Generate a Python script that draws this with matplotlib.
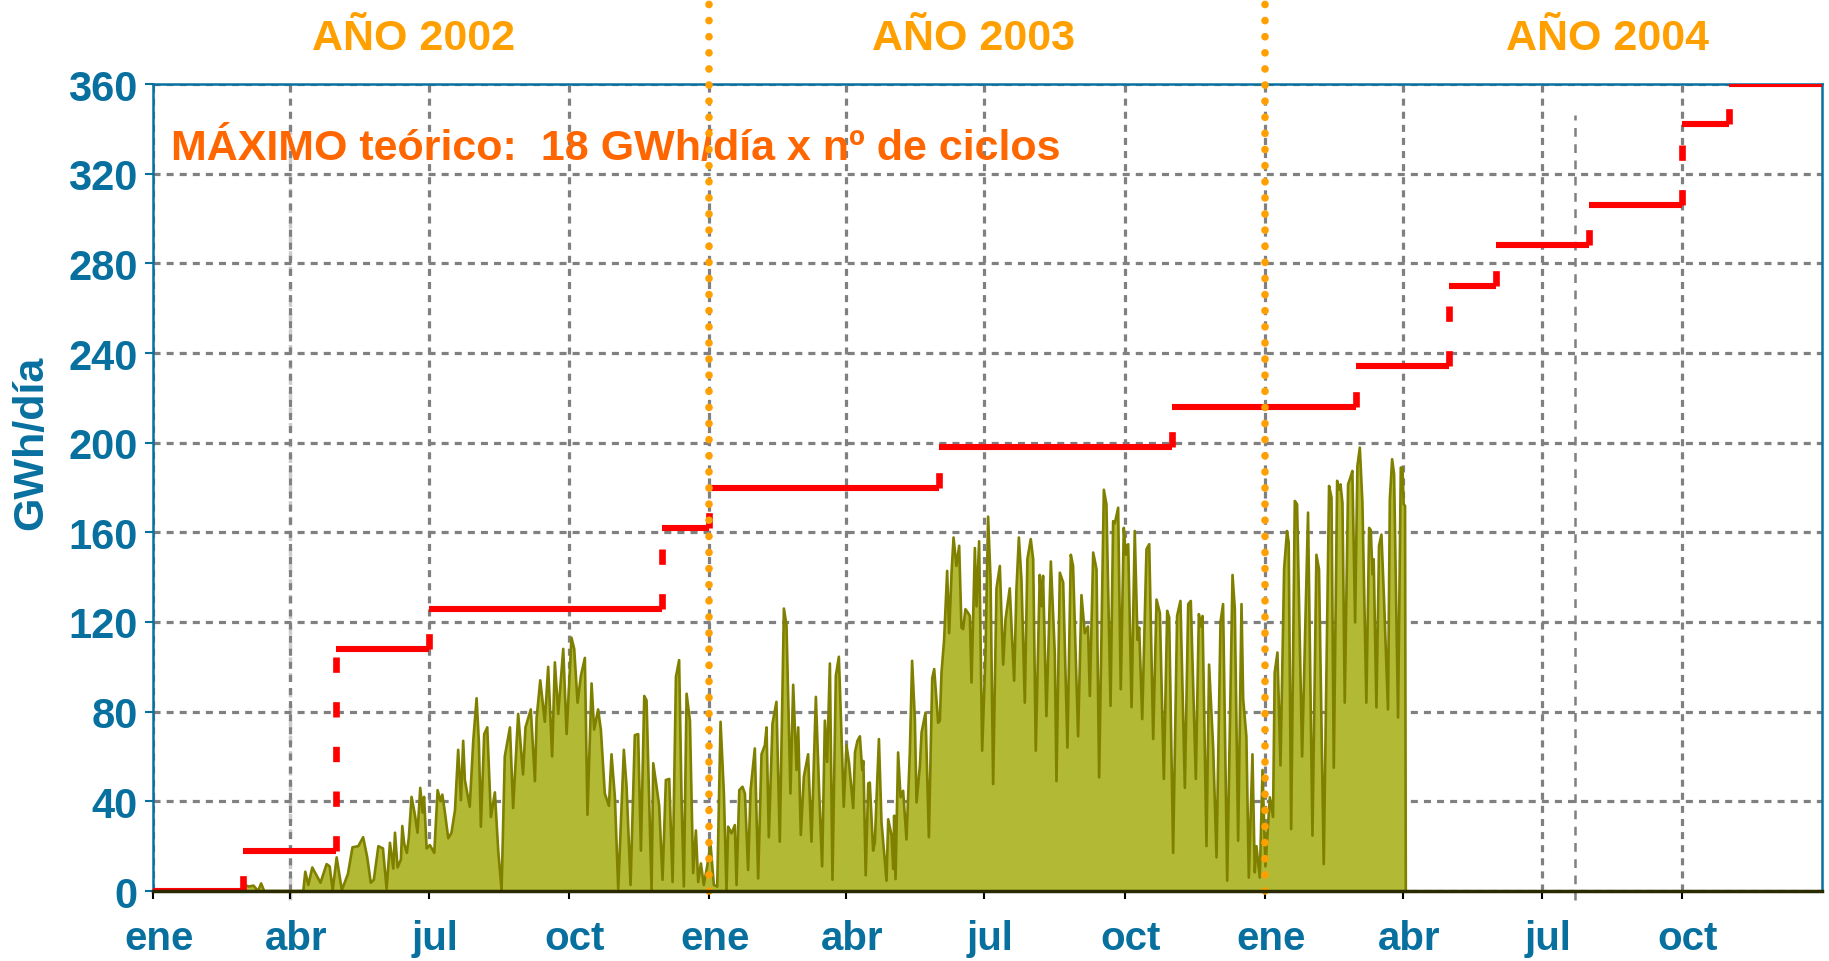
import matplotlib
matplotlib.use("Agg")
import matplotlib.pyplot as plt
from matplotlib import transforms

plt.rcParams['font.family'] = ['Liberation Sans', 'DejaVu Sans']
plt.rcParams['font.weight'] = 'bold'

# Theoretical maximum (18 GWh/day per cycle), step starts in days from 1 Jan 2002
step_day = [0, 59, 120, 181, 334, 365, 516, 669, 790, 851, 882, 943, 1004, 1035]
step_gwh = [0, 18, 108, 126, 162, 180, 198, 216, 234, 270, 288, 306, 342, 360]
end_day = 1096

# Daily production (day offset, GWh/day)
area_day = [
    59, 60, 63, 66, 69, 71, 73, 98.7, 100, 102, 104.6, 107.4, 110, 114, 116, 118,
    120.6, 124, 128, 131, 134.8, 138, 140.7, 143, 145, 148, 151, 153.4,
    155.6, 157.8, 158.9, 160.6, 162.8, 163.7, 165, 166.7, 168, 169.8, 172, 173.7,
    175.5, 177, 178, 179.7, 181.8, 184.7, 186.9, 188.8, 190, 191.7, 193.9, 196,
    198.3, 200.4, 202.2, 203.7, 204.8, 208, 210.3, 212.5, 214, 215.3, 217.5, 219.5,
    221.9, 224.5, 226.7, 228.9, 231, 234.4, 236.5, 239.8, 243, 244.6, 248.1, 250.8,
    251.9, 254.3, 257.3, 259.5, 262.1, 263.9, 266.1, 269.4, 271.6, 274.8, 276.6, 278.8,
    281, 283.6, 285.3, 288, 289.7, 292.3, 294.1, 296.7, 299.4, 301.1, 303.3, 305.5,
    309.2, 311, 313.6, 316.4, 318.6, 320.4, 322.6, 324.1, 327.4, 328.5, 330.7, 332.4,
    334.6, 336.8, 339, 341.2, 343.4, 345.5, 347.1, 348.6, 350.4, 352.6, 354.7, 356.5,
    358, 359.8, 361.7, 363.9, 366.1, 368.3, 370.5, 372.7, 374.9, 376.6, 377.7, 379.9,
    382.1, 383.2, 385, 387.1, 388.7, 390.8, 392.4, 395.2, 397.4, 399.6, 401.8, 402.9,
    404.4, 406.8, 409.4, 411.6, 414.3, 416, 418.6, 420.4, 422.6, 423.7, 425.4, 427.4,
    430.2, 432.4, 435.3, 437.5, 439.4, 441.2, 442.7, 444.5, 446.2, 448.4, 450.4, 452.1,
    453.6, 455.4, 457.1, 459.8, 461, 462.6, 464.2, 465.7, 466.5, 468, 469.7, 470.7,
    472.9, 474, 476.7, 478.4, 481.7, 482.8, 485, 486.1, 486.7, 487.6, 489.3, 490.9,
    492.6, 494.8, 497, 498.5, 500.3, 501.4, 503.6, 504.7, 507.3, 509.5, 511.7, 513,
    515.6, 516.7, 517.8, 519.5, 521.5, 522.8, 524.4, 525.7, 527.6, 529.4, 530.9, 532,
    533.5, 535.3, 536.4, 537.5, 539.7, 540.8, 542.5, 544.5, 546.7, 548.4, 550, 551.7,
    553.9, 556.1, 558.3, 559.8, 562.6, 565.5, 567, 568.6, 570.3, 572.5, 574.2, 576.4,
    578, 579.7, 582.3, 583.4, 584.5, 586.7, 589.6, 592.2, 593.3, 595.5, 597.7, 600.5,
    602.7, 604.2, 607.5, 609.7, 611.9, 614, 615.2, 617.4, 619.6, 621.3, 624.4, 626.1,
    628.8, 630.5, 631.6, 633.8, 635.5, 637.5, 638.8, 640.4, 642.6, 644.7, 646.5, 647.6,
    649.6, 652.4, 654.2, 656.8, 659, 661.2, 663.8, 666, 667.3, 669.9, 672.5, 674.7,
    677.6, 679.8, 681.5, 684.8, 686.8, 688.1, 689.2, 691.8, 693.5, 696.2, 698.4, 701,
    702.7, 705.4, 708.9, 710.4, 712.6, 714.8, 715.9, 718, 719.6, 722, 723.5, 724.6,
    726.8, 728.6, 730.5, 733.4, 735.5, 736.6, 738.4, 740.4, 742.8, 744.7, 745.8, 747.4,
    749.8, 751.3, 754.6, 758.5, 761.4, 764, 765.7, 768.8, 772.3, 773.9, 775.4, 777.6,
    778.7, 779.8, 781.1, 782.6, 784.8, 786.3, 787.6, 789.4, 790.9, 792.5, 794.2, 796.8,
    798.6, 799.7, 800.8, 801.6, 803.4, 805.1, 806.7, 808.4, 811, 812.2, 813.7, 815,
    817.6, 819.4, 820.5, 821.3, 822.2, 822.7,
]
area_gwh = [
    0, 2.7, 2, 2.4, 0, 3.4, 0, 0, 8.6, 2.7, 10.5, 7, 3.7, 12, 11, 0.4,
    15, 0.4, 7.6, 19.5, 20, 24, 15, 3.7, 5, 20, 19, 1,
    21.5, 10, 26, 10.5, 14, 29, 21, 17, 24, 42, 34, 26,
    46, 35, 42, 19, 20.5, 17, 45, 40, 43, 35, 23.5, 26,
    36, 63, 40.5, 67, 49.5, 37.6, 67, 86, 66.6, 28.7, 70, 73,
    33, 44, 18, 0.4, 60, 73, 37, 79, 52, 73, 81, 49,
    77, 94, 75.5, 100, 60, 102, 79, 108, 70, 113, 108, 84,
    96, 104, 34, 92.6, 72, 81, 72, 43.5, 38, 61, 42, 1,
    63, 46.5, 2.7, 69.5, 70, 18, 87, 85, 0.4, 57, 46.5, 38,
    5, 49.5, 50, 4, 95.5, 103, 40.6, 2, 88, 76, 8, 27,
    4, 12.3, 2.7, 11, 21, 2.7, 2, 75.5, 43.5, 0.4, 28.7, 25.7,
    29.4, 2.7, 45, 46.5, 43.5, 9.4, 45, 63.6, 5.6, 61, 65, 73,
    24, 74.7, 84.4, 22, 126, 118.6, 43.5, 92, 54, 73, 25, 51,
    61, 22, 86.6, 43.5, 11, 76, 57.6, 101.5, 5, 96, 104.5, 70,
    37.6, 65, 57, 37, 62, 67, 69, 54, 58, 7, 48, 48.4,
    18, 21.7, 67.8, 30.6, 4.6, 32, 24.7, 9.8, 33.6, 5.3, 61.8, 41.8,
    44.7, 23, 61.8, 102.7, 76.7, 39.5, 55.9, 70.7, 79.6, 24, 95, 99,
    75, 76, 97.5, 112, 142.8, 115, 142, 157.7, 145, 154, 117.5, 116.8,
    125.7, 124, 122.7, 93, 153, 127, 156, 62.6, 106.4, 167, 139, 47.7,
    135, 145, 101, 121, 135, 93.8, 134.6, 157.7, 139, 84, 148, 157,
    148, 62.6, 141, 127, 140.6, 78, 147, 106, 49, 142, 137.6, 64,
    150, 145, 69, 132, 115, 118, 87, 151, 143.5, 50.7, 179, 172.5,
    82.6, 165, 164, 171, 90, 162, 150, 154.7, 82, 160.6, 112, 117.5,
    76.7, 152.5, 154.7, 67.8, 130, 124, 50, 125, 122, 17, 122.7, 129.4,
    46, 128, 129.4, 50, 123.5, 118, 122.7, 20, 101, 64, 15, 120,
    128, 4.6, 141, 126, 22.4, 128, 85.6, 69, 6, 61, 8.3, 20,
    6, 54, 11, 41.8, 33, 97.5, 106.4, 56, 144, 160.6, 155.4, 27.6,
    174, 172.5, 60, 168.8, 24.7, 150, 143.5, 12, 180.7, 175.5, 55, 183,
    179, 181.4, 173, 84, 181.4, 184.4, 187.4, 119.8, 189.6, 197.8, 173.3, 84,
    162, 161, 141.3, 148, 81.9, 154, 159, 130, 81, 174.7, 192.6, 186,
    77.4, 188.9, 188.9, 172.5, 171.8, 0,
]

tick_day = [0, 90, 181, 273, 365, 455, 546, 638, 730, 821, 912, 1004]
tick_lbl = ['ene', 'abr', 'jul', 'oct'] * 3
year_lbl = ['AÑO 2002', 'AÑO 2003', 'AÑO 2004']
year_pos = [171, 539, 955]
year_sep = [365, 730]

BLUE = '#08709f'
ORANGE = '#ffa000'
RED = '#ff0000'
GRID = '#808080'

fig = plt.figure(figsize=(18.29, 9.62), dpi=100)
ax = fig.add_axes([153 / 1829, 1 - 892 / 962, (1822 - 153) / 1829, (892 - 85) / 962])

# production area
ax.fill_between(area_day, area_gwh, 0, color='#b2b934', lw=0, zorder=2)
ax.plot(area_day, area_gwh, color='#808000', lw=1.9, zorder=3)

# theoretical maximum: solid treads, dashed risers
ax.hlines(step_gwh, step_day, step_day[1:] + [end_day], color=RED, lw=4.4, zorder=6)
for i in range(1, len(step_day)):
    ax.plot([step_day[i], step_day[i]], [step_gwh[i - 1], step_gwh[i]], color=RED,
            lw=4.8, linestyle=(0, (2.3, 4.4)), solid_capstyle='butt', zorder=6)

# year separators
for d in year_sep:
    ax.plot([d, d], [0, 398], color=ORANGE, lw=5.5, linestyle=(0, (0.01, 2.1)),
            dash_capstyle='round', clip_on=False, zorder=7)

# stray guides present in the original
ax.plot([90, 90], [-4, 345], color='#cccccc', lw=2.5, linestyle=(0, (2.5, 2)),
        clip_on=False, zorder=0.5)
ax.plot([934, 934], [-4, 346], color=GRID, lw=1.8, linestyle=(0, (3.5, 3)),
        clip_on=False, zorder=1)

ax.set_xlim(0, end_day)
ax.set_ylim(0, 360)
ax.set_yticks(range(0, 361, 40))
ax.set_xticks(tick_day)
ax.set_xticklabels(tick_lbl)
ax.set_axisbelow(True)
ax.grid(True, color=GRID, lw=2.3, linestyle=(0, (2.2, 1.9)))

ax.tick_params(axis='y', colors=BLUE, labelsize=30, length=6, width=1.5, pad=5)
ax.tick_params(axis='x', colors='black', labelcolor=BLUE, labelsize=29,
               length=6, width=1.5, pad=14)
off = transforms.ScaledTranslation(6 / 100, 0, fig.dpi_scale_trans)
for lbl in ax.get_xticklabels():
    lbl.set_transform(lbl.get_transform() + off)
    lbl.set_fontweight('bold')
for lbl in ax.get_yticklabels():
    lbl.set_fontweight('bold')

for side in ['left', 'top', 'right']:
    ax.spines[side].set_color(BLUE)
    ax.spines[side].set_linewidth(1.8)
ax.spines['bottom'].set_color('#2a2a00')
ax.spines['bottom'].set_linewidth(2.5)
ax.spines['bottom'].set_zorder(8)

for txt, d in zip(year_lbl, year_pos):
    ax.text(d, 380.5, txt, color=ORANGE, fontsize=31, fontweight='bold',
            ha='center', va='center', clip_on=False)

ax.text(12, 331.5, 'MÁXIMO teórico:  18 GWh/día x nº de ciclos', color='#ff6600',
        fontsize=31, fontweight='bold', ha='left', va='center')

fig.text(0.017, 0.54, 'GWh/día', color=BLUE, fontsize=31, fontweight='bold',
         rotation=90, ha='center', va='center')

fig.savefig('out.png', dpi=100)
